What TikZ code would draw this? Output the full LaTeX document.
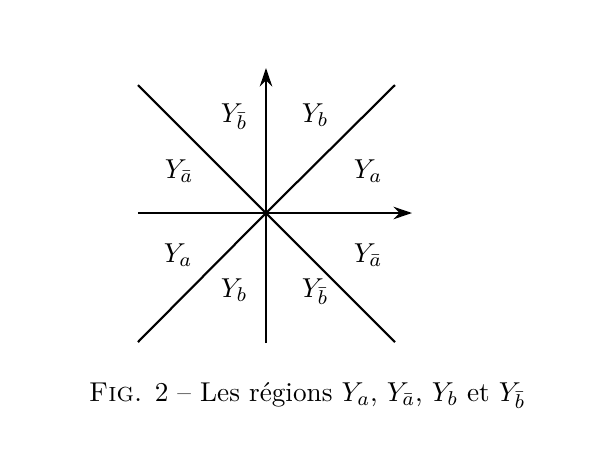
\documentclass[tikz,border=0pt]{standalone}
\usepackage{amssymb}
\usepackage{amsmath}
\usetikzlibrary{arrows.meta}

\begin{document}
\begin{tikzpicture}[x=0.4pt,y=-0.4pt,line width=0.85pt,
        axis/.style={-{Stealth[length=7.4pt,width=5pt,inset=2.4pt]}},
        region/.style={anchor=base,inner sep=0pt,font=\fontsize{10.9}{13}\selectfont}]
    \useasboundingbox (0,0) rectangle (602,462);
    \coordinate (o) at (266,213);
    % axes
    \coordinate (xl) at (138,213);
    \coordinate (xr) at (412,213);
    \coordinate (yb) at (266,343);
    \coordinate (yt) at (266,68);
    \draw[axis] (xl) -- (xr);
    \draw[axis] (yb) -- (yt);
    % diagonals through the origin
    \coordinate (nw) at (138,85);
    \coordinate (se) at (395,342);
    \coordinate (ne) at (395,85);
    \coordinate (sw) at (138,342);
    \draw (nw) -- (o) -- (se);
    \draw (sw) -- (o) -- (ne);
    % upper regions
    \node[region] (bbarup) at (234,122) {$Y_{\bar b}$};
    \node[region] (bup) at (315,122) {$Y_b$};
    \node[region] (abarleft) at (179,178) {$Y_{\bar a}$};
    \node[region] (aright) at (368,178) {$Y_a$};
    % lower regions
    \node[region] (aleft) at (178,262) {$Y_a$};
    \node[region] (abarright) at (368,262) {$Y_{\bar a}$};
    \node[region] (bdown) at (234,297) {$Y_b$};
    \node[region] (bbardown) at (315,297) {$Y_{\bar b}$};
    % caption
    \node[region] (caption) at (307,401) {\textsc{Fig.} 2 -- Les régions $Y_a$, $Y_{\bar a}$, $Y_b$ et $Y_{\bar b}$};
\end{tikzpicture}
\end{document}
